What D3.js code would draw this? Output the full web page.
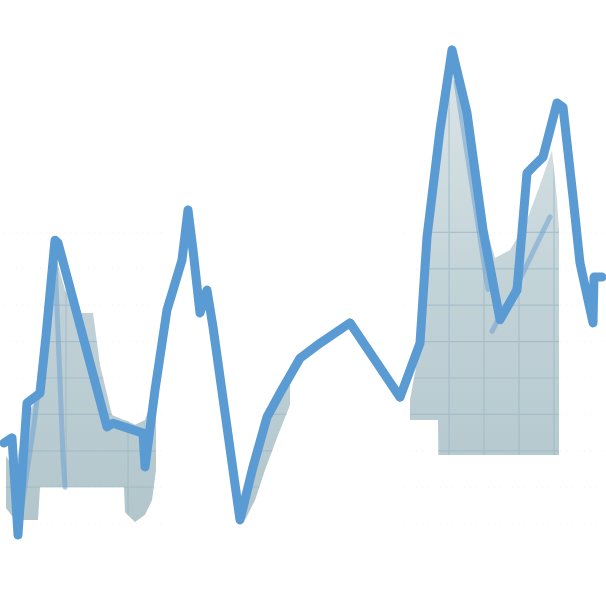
<!DOCTYPE html>
<html><head><meta charset="utf-8">
<script src="https://cdn.jsdelivr.net/npm/d3@7/dist/d3.min.js"></script>
<style>html,body{margin:0;padding:0;background:#fff;}svg{display:block;}</style>
</head><body>
<svg id="chart" width="606" height="606"></svg>
<script>
// ---- data ----
const lineX = [0,2,3.5,5.75,9,10.5,12.75,13.5,25.75,27.25,34.75,35.25,37.75,40.75,42.25,44.5,46,47.25,49,50.75,52.25,59,62.25,65.75,69,74,79,86.5,93.25,99,104,105.75,109,112,115.75,119.75,124,128.25,130.75,132.25,134.75,138.25,139.75,142.25,144,147.25,147.5,149.5];
const lineY = [22.5,23.5,4.8,30.2,32.1,43.1,61.5,61,25.6,26.3,24.4,17.9,32.7,48.1,51.9,57.7,67.3,59.6,47.5,51.9,44.8,7.7,17.9,27.5,32.1,38.8,41.7,45.6,37.9,31.3,41.7,62.1,82.7,98.1,86,63.5,46.2,51.9,74.4,75.6,77.5,87.9,87.1,69.8,57.1,45.6,54.4,54.4];

// secondary (faint) strands
const strandAX = [12.75,14.75,15.25]; const strandAY = [58,20,14];
const strandBX = [4,7.5,11];          const strandBY = [8,26,48];
const strandCX = [122,129,134,136.5]; const strandCY = [44,54,62,66];
const strandDX = [113,117,121];       const strandDY = [92,72,52];

// band areas
const leftX   = [0.5,2.75,5.25,8.5,9,10.5,12.75,15.25,18.25,22.25,24,27,30,30.25,32.75,35.25,37,38];
const leftTop = [20,17.3,26.9,31.7,32.3,44.2,58.7,51.9,47.5,47.5,37.5,27.9,26.9,26.9,26,26.9,30.8,26.9];
const leftBot = [10,7.7,7.7,7.7,14,14,14,14,14,14,14,14,14,9.2,7.3,8.7,11.5,17.3];

const midX   = [60.25,62.75,65.25,68.5,71.5];
const midTop = [10.6,19.2,26,30.8,33.7];
const midBot = [7.7,11.5,17.3,24,29.8];

const rightX   = [101.5,104,106,108.5,108.6,112,115.25,119,122.75,126.5,130.25,134,137,138.25,138.75];
const rightTop = [30.8,41.3,61.5,78,78.5,96.2,85.6,67.3,58.1,59.6,64.4,72.1,78.8,69.2,63.5];
const rightBot = [26.9,26.9,26.9,26.9,20.2,20.2,20.2,20.2,20.2,20.2,20.2,20.2,20.2,20.2,20.2];

const gridXTicks = [15.5,31,111.25,120,128.75,137.5];
const gridYTicks = [7,14,21,28,35,42,49,56,63];

// ---- drawing ----
const svg = d3.select("#chart");
const x = d3.scaleLinear().domain([0,150]).range([4,604]);
const y = d3.scaleLinear().domain([0,100]).range([560,40]);

const defs = svg.append("defs");
const grad = defs.append("linearGradient").attr("id","fillGrad")
  .attr("gradientUnits","userSpaceOnUse").attr("x1",0).attr("x2",0).attr("y1",60).attr("y2",520);
grad.append("stop").attr("offset","0%").attr("stop-color","#d8e2e5");
grad.append("stop").attr("offset","50%").attr("stop-color","#bccfd4");
grad.append("stop").attr("offset","100%").attr("stop-color","#abc1c7");

const zip = (xs, a, b) => xs.map((v,i)=>({x:v, t:a[i], b:b[i]}));
const areas = [zip(leftX,leftTop,leftBot), zip(midX,midTop,midBot), zip(rightX,rightTop,rightBot)];
const areaGen = d3.area().x(d=>x(d.x)).y0(d=>y(d.b)).y1(d=>y(d.t)).curve(d3.curveLinear);

const clip = defs.append("clipPath").attr("id","areaClip");
areas.forEach(a => clip.append("path").attr("d", areaGen(a)));

// very faint global grid fragments near areas
const gAll = svg.append("g").attr("stroke","#d3d9dc").attr("stroke-width",1).attr("opacity",0.35).attr("stroke-dasharray","1,5");
gAll.selectAll("line.h").data(gridYTicks).join("line")
  .attr("x1",x(0)).attr("x2",x(40)).attr("y1",d=>y(d)).attr("y2",d=>y(d));
gAll.selectAll("line.h2").data(gridYTicks).join("line")
  .attr("x1",x(100)).attr("x2",x(150)).attr("y1",d=>y(d)).attr("y2",d=>y(d));

svg.append("g").selectAll("path").data(areas).join("path")
  .attr("d", areaGen).attr("fill","url(#fillGrad)").attr("opacity",0.92);

// grid inside areas
const gIn = svg.append("g").attr("clip-path","url(#areaClip)").attr("stroke","#a0b9c6").attr("stroke-width",1.2).attr("opacity",0.75);
gIn.selectAll("line.h").data(gridYTicks).join("line")
  .attr("x1",x(0)).attr("x2",x(150)).attr("y1",d=>y(d)).attr("y2",d=>y(d));
gIn.selectAll("line.v").data(gridXTicks).join("line").attr("class","v")
  .attr("x1",d=>x(d)).attr("x2",d=>x(d)).attr("y1",y(0)).attr("y2",y(100));

const lineGen = d3.line().x(d=>x(d[0])).y(d=>y(d[1])).curve(d3.curveLinear);
const pts = (xs, ys) => xs.map((v,i)=>[v, ys[i]]);

// faint strands
[[strandAX,strandAY],[strandBX,strandBY],[strandCX,strandCY],[strandDX,strandDY]].forEach(([xs,ys])=>{
  svg.append("path").attr("d", lineGen(pts(xs,ys))).attr("fill","none")
    .attr("stroke","#6fa3d2").attr("stroke-width",5).attr("opacity",0.55)
    .attr("stroke-linecap","round").attr("stroke-linejoin","round");
});

// main line
svg.append("path").attr("d", lineGen(pts(lineX,lineY))).attr("fill","none")
  .attr("stroke","#5b9bd3").attr("stroke-width",9)
  .attr("stroke-linecap","round").attr("stroke-linejoin","round");
</script>
</body></html>
